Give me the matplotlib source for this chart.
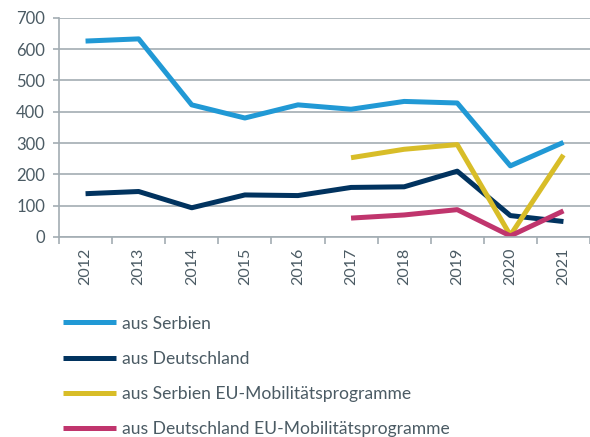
import numpy as np
import matplotlib
matplotlib.use('Agg')
import matplotlib.pyplot as plt

plt.rcParams['font.family'] = ['Lato', 'DejaVu Sans']

years = ['2012', '2013', '2014', '2015', '2016', '2017', '2018', '2019', '2020', '2021']
serbien = [626, 633, 422, 380, 422, 408, 433, 428, 227, 302]
deutschland = [138, 145, 93, 134, 132, 158, 160, 210, 68, 49]
# EU programmes only from 2017 on
serbien_eu = [np.nan] * 5 + [253, 280, 295, 5, 262]
deutschland_eu = [np.nan] * 5 + [60, 70, 87, 3, 83]

labels = ['aus Serbien', 'aus Deutschland',
          'aus Serbien EU-Mobilitätsprogramme',
          'aus Deutschland EU-Mobilitätsprogramme']
colors = ['#2199d5', '#01335f', '#d8bd28', '#c0356d']
text_col = '#4b5b64'
grid_col = '#a3adb3'

fig = plt.figure(figsize=(5.9, 4.37), dpi=100)
ax = fig.add_axes([0.1, 0.458, 0.9, 0.501])

x = np.arange(len(years))
for vals, lab, c in zip([serbien, deutschland, serbien_eu, deutschland_eu], labels, colors):
    ax.plot(x, vals, color=c, lw=3.6, label=lab, solid_capstyle='butt')

ax.set_xlim(-0.5, len(years) - 0.5)
ax.set_ylim(0, 700)
ax.set_yticks(range(0, 701, 100))
ax.yaxis.grid(True, color=grid_col, lw=1.2)
ax.set_axisbelow(True)

ax.set_xticks(x)
ax.set_xticklabels(years, rotation=90)
ax.set_xticks(np.arange(-0.5, len(years)), minor=True)
ax.tick_params(axis='x', which='major', length=0, pad=8, labelsize=11.5, labelcolor=text_col)
ax.tick_params(axis='x', which='minor', length=5, color=grid_col, width=1.2)
ax.tick_params(axis='y', length=4, color=grid_col, width=1.2, labelsize=12, labelcolor=text_col, pad=6)

for s in ['top', 'right']:
    ax.spines[s].set_visible(False)
for s in ['left', 'bottom']:
    ax.spines[s].set_color(grid_col)
    ax.spines[s].set_linewidth(1.2)

fig.legend(loc='upper left', bbox_to_anchor=(0.095, 0.294), frameon=False,
           fontsize=12.6, labelcolor=text_col, handlelength=3.05, handletextpad=0.3,
           labelspacing=1.1, borderaxespad=0)

fig.savefig('out.png', dpi=100)
